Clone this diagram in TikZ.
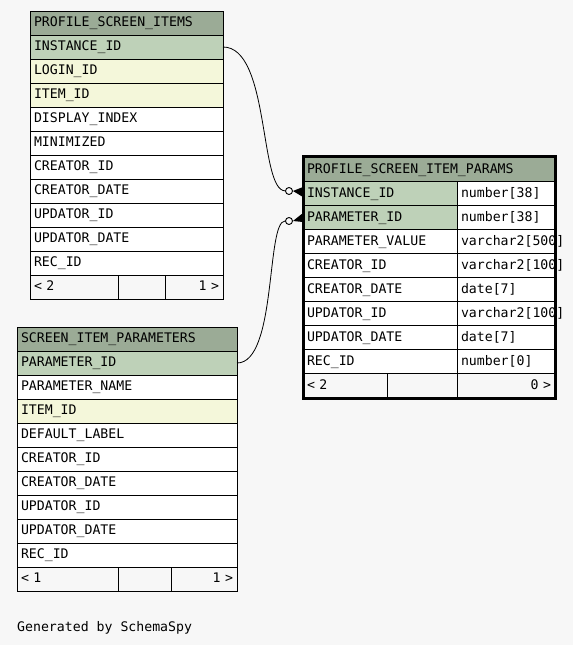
\documentclass[tikz,border=0pt]{standalone}
\usepackage{fontspec}
\newfontfamily\erdfont[HyphenChar=None]{DejaVu Sans Mono}
\newcommand\erdtext{\erdfont\fontsize{13.2}{15}\selectfont}
\definecolor{bggrey}{HTML}{F7F7F7}
\definecolor{headgreen}{HTML}{9BAB96}
\definecolor{pkgreen}{HTML}{BED1B8}
\definecolor{fkyellow}{HTML}{F4F7DA}
\tikzset{
  cell/.style={draw,line width=0.9pt,shape=rectangle,anchor=north west,outer sep=0pt,minimum height=24pt,
    inner xsep=4pt,inner ysep=0pt,text height=9.5pt,text depth=2.5pt,align=left,font=\erdtext},
  head/.style={cell,fill=headgreen},
  pk/.style={cell,fill=pkgreen},
  fk/.style={cell,fill=fkyellow},
  plain/.style={cell,fill=white},
  foot/.style={cell,fill=bggrey},
  optone/.style={draw,line width=0.9pt,shape=circle,fill=bggrey,minimum size=7pt,inner sep=0pt},
  rel/.style={draw,line width=0.8pt}
}
\begin{document}
\begin{tikzpicture}[x=1pt,y=-1pt]
\fill[bggrey] (0,0) rectangle (573,645);
% PROFILE_SCREEN_ITEMS
\node[head,text width=185pt](psi-0) at (30,11){PROFILE\_SCREEN\_ITEMS};
\foreach \f/\s [count=\i] in {INSTANCE\_ID/pk,LOGIN\_ID/fk,ITEM\_ID/fk,DISPLAY\_INDEX/plain,MINIMIZED/plain,CREATOR\_ID/plain,CREATOR\_DATE/plain,UPDATOR\_ID/plain,UPDATOR\_DATE/plain,REC\_ID/plain}
  \node[\s,text width=185pt](psi-\i) at (30,{11+24*\i}){\f};
\node[foot,text width=80pt](psi-fa) at (30,275){<~2};
\node[foot,text width=39pt](psi-fb) at (118,275){};
\node[foot,text width=50pt,align=right](psi-fc) at (165,275){1~>};
% SCREEN_ITEM_PARAMETERS
\node[head,text width=212pt](sip-0) at (17,327){SCREEN\_ITEM\_PARAMETERS};
\foreach \f/\s [count=\i] in {PARAMETER\_ID/pk,PARAMETER\_NAME/plain,ITEM\_ID/fk,DEFAULT\_LABEL/plain,CREATOR\_ID/plain,CREATOR\_DATE/plain,UPDATOR\_ID/plain,UPDATOR\_DATE/plain,REC\_ID/plain}
  \node[\s,text width=212pt](sip-\i) at (17,{327+24*\i}){\f};
\node[foot,text width=93pt](sip-fa) at (17,567){<~1};
\node[foot,text width=45pt](sip-fb) at (118,567){};
\node[foot,text width=58pt,align=right](sip-fc) at (171,567){1~>};
% PROFILE_SCREEN_ITEM_PARAMS
\node[head,text width=244pt](psip-0) at (303,157.5){PROFILE\_SCREEN\_ITEM\_PARAMS};
\foreach \f/\t/\s [count=\i] in {INSTANCE\_ID/number[38]/pk,PARAMETER\_ID/number[38]/pk,PARAMETER\_VALUE/varchar2[500]/plain,CREATOR\_ID/varchar2[100]/plain,CREATOR\_DATE/date[7]/plain,UPDATOR\_ID/varchar2[100]/plain,UPDATOR\_DATE/date[7]/plain,REC\_ID/number[0]/plain}
{
  \node[\s,text width=146pt](psip-\i) at (303,{157.5+24*\i}){\f};
  \node[plain,text width=90pt](psip-t\i) at (457,{157.5+24*\i}){\t};
}
\node[foot,text width=76pt](psip-fa) at (303,373.5){<~2};
\node[foot,text width=62pt](psip-fb) at (387,373.5){};
\node[foot,text width=90pt,align=right](psip-fc) at (457,373.5){0~>};
% relationships
\node[optone](o1) at (289,191){};
\node[optone](o2) at (289,221){};
\draw[rel] (psi-1.east) .. controls (270,47) and (259,190) .. (o1);
\draw[rel] (sip-1.east) .. controls (277,363) and (266,221) .. (o2);
\fill (o1.east) -- ([yshift=6.5pt]psip-1.west) -- ([yshift=-3.5pt]psip-1.west) -- cycle;
\fill (o2.east) -- ([yshift=4.5pt]psip-2.west) -- ([yshift=-4.5pt]psip-2.west) -- cycle;
\draw[line width=3pt] (303,156) rectangle (555,398);
\node[anchor=base west,inner sep=0pt,font=\erdtext](gen) at (17,631){Generated by SchemaSpy};
\end{tikzpicture}
\end{document}
